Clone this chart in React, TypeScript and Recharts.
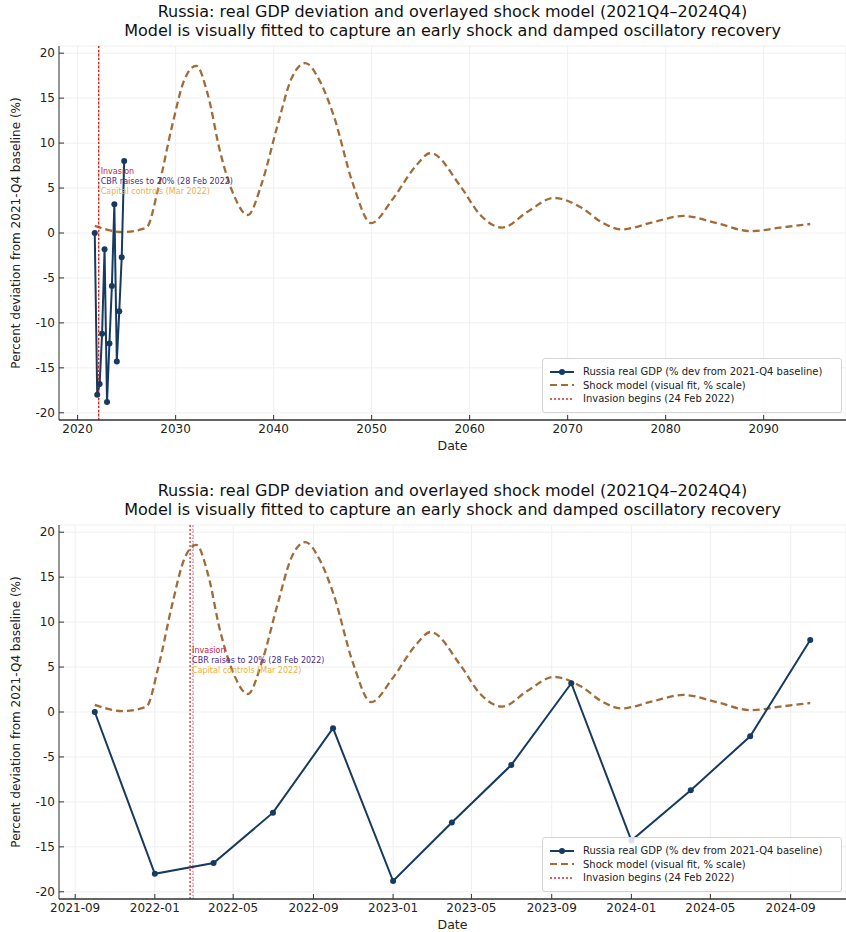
import React from 'react'
import {
  LineChart,
  Line,
  XAxis,
  YAxis,
  CartesianGrid,
  ReferenceLine,
  ReferenceDot,
} from 'recharts'

// Russia real GDP, % deviation from 2021-Q4 baseline (quarterly)
const gdpQuarters = [
  '2021-10', '2022-01', '2022-04', '2022-07', '2022-10', '2023-01', '2023-04',
  '2023-07', '2023-10', '2024-01', '2024-04', '2024-07', '2024-10',
]
const gdpValues = [0, -18.0, -16.8, -11.2, -1.8, -18.8, -12.3, -5.9, 3.2, -14.3, -8.7, -2.7, 8.0]

// shock model, sampled along the fit window (months after 2021-10)
const modelMonths = [
  0, 1.4, 2.6, 3.2, 3.9, 4.5, 5.1, 5.7, 6.3, 7.0, 7.7, 8.4, 9.2, 9.9, 10.6, 11.3,
  12.0, 13.0, 13.9, 15.0, 16.1, 16.9, 18.4, 19.4, 20.5, 21.8, 23.1, 24.5, 25.5,
  26.5, 28.1, 29.6, 31.3, 33.0, 34.5, 36,
]
const modelValues = [
  0.8, 0.1, 0.6, 5.0, 12.0, 17.0, 18.6, 15.3, 9.1, 4.2, 2.0, 5.5, 12.0, 17.2, 18.9, 17.0,
  13.2, 5.4, 1.1, 3.8, 7.3, 8.9, 5.2, 2.0, 0.6, 2.4, 3.9, 2.8, 1.2,
  0.4, 1.2, 1.9, 1.1, 0.2, 0.6, 1.0,
]

// axis ticks
const yTicks = [-20, -15, -10, -5, 0, 5, 10, 15, 20]
const yearTicks = [2020, 2030, 2040, 2050, 2060, 2070, 2080, 2090]
const monthTickLabels = [
  '2021-09', '2022-01', '2022-05', '2022-09', '2023-01', '2023-05', '2023-09',
  '2024-01', '2024-05', '2024-09',
]

// events
const invasionDate = '2022-02-24'
const cbrDate = '2022-02-28'
const capitalDate = '2022-03-01'

const FONT = '"DejaVu Sans", Verdana, sans-serif'
const NAVY = '#173a60'
const MODEL = '#a06c3a'
const RED = '#d62728'

const DAY = 86400000
const ts = (s: string) => {
  const [y, m, d] = s.split('-').map(Number)
  return Date.UTC(y, m - 1, d || 1)
}
const toYear = (s: string) => {
  const t = ts(s)
  const y = new Date(t).getUTCFullYear()
  return y + (t - Date.UTC(y, 0, 1)) / (365 * DAY)
}

// top panel: model plotted on a (mis-scaled) year axis
const modelYearStart = 2021.75
const modelYearSpan = 73
// bottom panel: model plotted across the data window
const windowStart = ts('2021-10-01')
const windowDays = 1096

type Variant = 'years' | 'dates'

function buildData(variant: Variant) {
  const gdp = gdpQuarters.map((q, i) => ({
    x: variant === 'years' ? toYear(q) : ts(q),
    y: gdpValues[i],
  }))
  const model = modelMonths.map((m, i) => ({
    x:
      variant === 'years'
        ? modelYearStart + (m / 36) * modelYearSpan
        : windowStart + (m / 36) * windowDays * DAY,
    y: modelValues[i],
  }))
  return { gdp, model }
}

const axisTick = { fontSize: 12, fill: '#222', fontFamily: FONT }

function Legend({ top }: { top: number }) {
  const row = { display: 'flex', alignItems: 'center', height: 13.5 }
  const txt = { fontSize: 10, color: '#222', marginLeft: 8, whiteSpace: 'nowrap' as const }
  return (
    <div
      style={{
        position: 'absolute',
        left: 542,
        top,
        width: 300,
        height: 55,
        boxSizing: 'border-box',
        border: '1px solid #d4d4d4',
        borderRadius: 3,
        background: 'rgba(255,255,255,0.85)',
        padding: '6px 0 0 6px',
        fontFamily: FONT,
      }}
    >
      <div style={row}>
        <svg width={26} height={10}>
          <line x1={1} y1={5} x2={25} y2={5} stroke={NAVY} strokeWidth={2} />
          <circle cx={13} cy={5} r={3} fill={NAVY} />
        </svg>
        <span style={txt}>Russia real GDP (% dev from 2021-Q4 baseline)</span>
      </div>
      <div style={row}>
        <svg width={26} height={10}>
          <line x1={1} y1={5} x2={25} y2={5} stroke={MODEL} strokeWidth={2.2} strokeDasharray="7 4" />
        </svg>
        <span style={txt}>Shock model (visual fit, % scale)</span>
      </div>
      <div style={row}>
        <svg width={26} height={10}>
          <line x1={1} y1={5} x2={25} y2={5} stroke={RED} strokeWidth={1.3} strokeDasharray="2 2" />
        </svg>
        <span style={txt}>Invasion begins (24 Feb 2022)</span>
      </div>
    </div>
  )
}

function Panel({ variant, offset }: { variant: Variant; offset: number }) {
  const { gdp, model } = buildData(variant)
  const isYears = variant === 'years'
  const xDomain = isYears
    ? [2018.1, 2098.4]
    : [windowStart - 54.8 * DAY, windowStart + (windowDays + 54.8) * DAY]
  const xTicks = isYears ? yearTicks : monthTickLabels.map((l) => ts(l))
  const fmt = (v: number) => {
    if (isYears) return String(Math.round(v))
    const d = new Date(v)
    return `${d.getUTCFullYear()}-${String(d.getUTCMonth() + 1).padStart(2, '0')}`
  }
  const ex = (s: string) => (isYears ? toYear(s) : ts(s))

  return (
    <div style={{ position: 'absolute', left: 0, top: offset, width: 846, height: 479 }}>
      <div
        style={{
          position: 'absolute',
          left: 59,
          top: 2,
          width: 787,
          textAlign: 'center',
          fontFamily: FONT,
          fontSize: 16,
          lineHeight: '19px',
          color: '#111',
        }}
      >
        <div>Russia: real GDP deviation and overlayed shock model (2021Q4–2024Q4)</div>
        <div>Model is visually fitted to capture an early shock and damped oscillatory recovery</div>
      </div>
      <LineChart width={846} height={479} margin={{ top: 46, right: 0, bottom: 0, left: 0 }}>
        <CartesianGrid stroke="#efefef" strokeWidth={1} />
        <XAxis
          type="number"
          dataKey="x"
          domain={xDomain}
          ticks={xTicks}
          tickFormatter={fmt}
          allowDataOverflow
          height={59}
          tick={axisTick}
          tickSize={-5}
          tickMargin={9}
          tickLine={{ stroke: '#333' }}
          axisLine={{ stroke: '#333', strokeWidth: 1.5 }}
        />
        <YAxis
          type="number"
          dataKey="y"
          domain={[-20.8, 20.8]}
          ticks={yTicks}
          allowDataOverflow
          width={59}
          tick={axisTick}
          tickSize={-5}
          tickMargin={9}
          tickLine={{ stroke: '#333' }}
          axisLine={{ stroke: '#333', strokeWidth: 1 }}
        />
        <ReferenceLine x={ex(capitalDate)} stroke="#f0a030" strokeWidth={1} strokeDasharray="4 2" strokeOpacity={0.7} />
        <ReferenceLine x={ex(cbrDate)} stroke="#b2508c" strokeWidth={1} strokeDasharray="1.5 1.5" strokeOpacity={0.6} />
        <Line
          data={model}
          dataKey="y"
          type="monotone"
          stroke={MODEL}
          strokeWidth={2.3}
          strokeDasharray="7 4"
          dot={false}
          isAnimationActive={false}
        />
        <Line
          data={gdp}
          dataKey="y"
          type="linear"
          stroke={NAVY}
          strokeWidth={2}
          dot={{ r: 3, fill: NAVY, stroke: NAVY, strokeWidth: 0 }}
          isAnimationActive={false}
        />
        <ReferenceLine x={ex(invasionDate)} stroke={RED} strokeWidth={1.3} strokeDasharray="2 2" />
        <ReferenceDot
          x={ex(invasionDate)}
          y={6.9}
          r={0}
          fill="none"
          stroke="none"
          label={{ value: 'Invasion', position: 'right', offset: 2, fontSize: 8, fill: '#c8203c', fontFamily: FONT }}
        />
        <ReferenceDot
          x={ex(invasionDate)}
          y={5.8}
          r={0}
          fill="none"
          stroke="none"
          label={{ value: 'CBR raises to 20% (28 Feb 2022)', position: 'right', offset: 2, fontSize: 8, fill: '#4a2a86', fontFamily: FONT }}
        />
        <ReferenceDot
          x={ex(invasionDate)}
          y={4.7}
          r={0}
          fill="none"
          stroke="none"
          label={{ value: 'Capital controls (Mar 2022)', position: 'right', offset: 2, fontSize: 8, fill: '#efb040', fontFamily: FONT }}
        />
      </LineChart>
      <div
        style={{
          position: 'absolute',
          left: 16,
          top: 233,
          transform: 'translate(-50%, -50%) rotate(-90deg)',
          whiteSpace: 'nowrap',
          fontFamily: FONT,
          fontSize: 12,
          color: '#222',
        }}
      >
        Percent deviation from 2021-Q4 baseline (%)
      </div>
      <div
        style={{
          position: 'absolute',
          left: 59,
          width: 787,
          top: 438,
          textAlign: 'center',
          fontFamily: FONT,
          fontSize: 12.5,
          color: '#222',
        }}
      >
        Date
      </div>
      <Legend top={358} />
    </div>
  )
}

export default function App() {
  return (
    <div style={{ position: 'absolute', left: 0, top: 0, width: 846, height: 932, background: '#fff', overflow: 'hidden' }}>
      <Panel variant="years" offset={0} />
      <Panel variant="dates" offset={479} />
    </div>
  )
}
